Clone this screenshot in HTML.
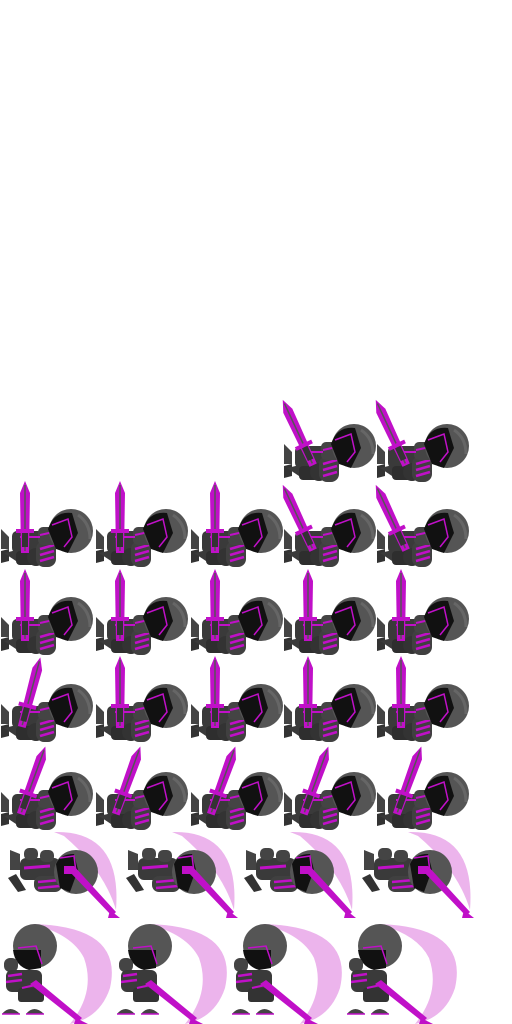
<!DOCTYPE html>
<html><head><meta charset="utf-8"><style>
html,body{margin:0;padding:0;background:#fff;}
svg{display:block;}
</style></head><body>
<svg width="512" height="1024" viewBox="0 0 512 1024" xmlns="http://www.w3.org/2000/svg">
<defs>
  <g id="sword">
    <polygon points="0,-42 5,-30 4,30 -4,30 -5,-30" fill="#c010c8"/>
    <line x1="0" y1="-38" x2="0" y2="28" stroke="#555" stroke-width="1.5"/>
    <rect x="-9" y="6" width="18" height="4" fill="#c010c8"/>
    <rect x="-3" y="10" width="6" height="14" fill="#333"/>
  </g>
  <g id="bodyA">
    <g transform="translate(0,12)">
    <path d="M1,40 L9,48 L9,60 L1,60 Z" fill="#444"/>
    <path d="M1,62 L9,60 L9,72 L1,74 Z" fill="#333"/>
    <path d="M4,64 L30,58 L34,68 L22,76 Z" fill="#3a3a3a"/>
    <rect x="12" y="42" width="34" height="22" rx="5" fill="#3a3a3a"/>
    <rect x="16" y="62" width="22" height="14" rx="4" fill="#2e2e2e"/>
    <circle cx="36" cy="68" r="9" fill="#333"/>
    <rect x="36" y="52" width="20" height="26" rx="8" fill="#404040"/>
    <path d="M40,60 L54,56 M40,66 L54,62 M40,72 L54,68" stroke="#c010c8" stroke-width="2.5"/>
    <rect x="38" y="38" width="20" height="18" rx="5" fill="#444"/>
    <path d="M40,46 L58,42" stroke="#c010c8" stroke-width="2"/>
    <g transform="translate(0,10)">
    <circle cx="71" cy="32" r="22" fill="#555"/>
    <path d="M48,30 Q54,12 72,14 L78,34 L68,54 L56,50 Z" fill="#111"/>
    <path d="M52,26 L68,20 L72,38 L64,48" stroke="#c010c8" stroke-width="1.5" fill="none"/>
    <path d="M78,16 Q90,24 90,40" stroke="#666" stroke-width="3" fill="none"/>
    </g>
    <path d="M20,48 L40,48" stroke="#c010c8" stroke-width="2"/>
    </g>
  </g>
  <g id="spriteA">
    <use href="#bodyA"/>
  </g>
  <g id="spriteB">
    <path d="M50,2 Q118,0 112,80 Q100,40 60,6 Z" fill="#ecb4ec"/>
    <polygon points="6,20 16,24 16,40 6,40" fill="#444"/>
    <polygon points="4,48 12,44 22,60 14,62" fill="#333"/>
    <rect x="16" y="28" width="40" height="22" rx="6" fill="#3a3a3a"/>
    <rect x="20" y="18" width="14" height="12" rx="5" fill="#444"/>
    <rect x="36" y="20" width="14" height="12" rx="5" fill="#444"/>
    <path d="M20,38 L46,36" stroke="#c010c8" stroke-width="3"/>
    <rect x="30" y="46" width="28" height="16" rx="7" fill="#404040"/>
    <path d="M34,52 L56,50 M34,58 L56,56" stroke="#c010c8" stroke-width="2.5"/>
    <circle cx="72" cy="42" r="22" fill="#555"/>
    <path d="M52,34 Q56,24 70,24 L74,40 L66,62 L56,58 Z" fill="#111"/>
    <path d="M56,28 L70,26 L72,42" stroke="#c010c8" stroke-width="1.5" fill="none"/>
    <polygon points="64,40 70,36 112,82 108,86" fill="#c010c8"/>
    <polygon points="106,80 116,88 104,88" fill="#c010c8"/>
    <rect x="60" y="36" width="10" height="8" fill="#c010c8"/>
  </g>
  <g id="spriteC">
    <path d="M32,2 Q124,4 110,66 Q100,96 70,102 Q96,70 84,36 Q72,12 32,2 Z" fill="#ecb4ec"/>
    <circle cx="35" cy="24" r="22" fill="#555"/>
    <path d="M13,28 Q15,44 29,48 L41,46 L41,28 Z" fill="#111"/>
    <path d="M18,26 L36,24 L42,42" stroke="#c010c8" stroke-width="1.5" fill="none"/>
    <rect x="4" y="36" width="14" height="14" rx="6" fill="#444"/>
    <rect x="6" y="48" width="36" height="22" rx="6" fill="#3a3a3a"/>
    <path d="M8,54 L22,52 M6,60 L22,58" stroke="#c010c8" stroke-width="2.5"/>
    <rect x="18" y="66" width="26" height="14" rx="3" fill="#333"/>
    <path d="M22,66 L40,62" stroke="#c010c8" stroke-width="2"/>
    <polygon points="30,62 36,58 82,96 78,100" fill="#c010c8"/>
    <polygon points="76,96 88,102 74,102" fill="#c010c8"/>
    <path d="M2,92 Q10,82 20,92 Z" fill="#444"/>
    <path d="M26,92 Q34,82 44,92 Z" fill="#444"/>
    <line x1="2" y1="92" x2="20" y2="92" stroke="#c010c8" stroke-width="1.5"/>
    <line x1="26" y1="92" x2="44" y2="92" stroke="#c010c8" stroke-width="1.5"/>
  </g>
</defs>
<g id="sprites"></g>
</svg>
<script>
const colsA = [0, 95, 190, 283, 376];
const rowsA = [392, 477, 565, 652, 740];
// sword tilt per sprite (degrees); null = empty
const tilts = [
  [null, null, null, -25, -25],
  [0, 0, 0, -25, -25],
  [0, 0, 0, 0, 0],
  [15, 0, 0, 0, 0],
  [20, 20, 20, 20, 20]
];
const colsB = [4, 122, 240, 358];
const rowB = 830;
const colsC = [0, 115, 230, 345];
const rowC = 922;
const NS = 'http://www.w3.org/2000/svg';
const root = document.getElementById('sprites');
rowsA.forEach((y, r) => {
  colsA.forEach((x, c) => {
    const t = tilts[r][c];
    if (t === null) return;
    const g = document.createElementNS(NS, 'g');
    
    
    g.setAttribute('transform', 'translate(' + x + ',' + y + ')');
    const b = document.createElementNS(NS, 'use');
    b.setAttribute('href', '#spriteA');
    g.appendChild(b);
    const s = document.createElementNS(NS, 'use');
    s.setAttribute('href', '#sword');
    s.setAttribute('transform', 'translate(' + (25 + t * 0.3) + ',46) rotate(' + t + ')');
    g.appendChild(s);
    root.appendChild(g);
  });
});
colsB.forEach(x => {
  const u = document.createElementNS(NS, 'use');
  
  
  u.setAttribute('href', '#spriteB');
  u.setAttribute('transform', 'translate(' + x + ',' + rowB + ')');
  root.appendChild(u);
});
colsC.forEach(x => {
  const u = document.createElementNS(NS, 'use');
  
  
  u.setAttribute('href', '#spriteC');
  u.setAttribute('transform', 'translate(' + x + ',' + rowC + ')');
  root.appendChild(u);
});
</script>
</body></html>
